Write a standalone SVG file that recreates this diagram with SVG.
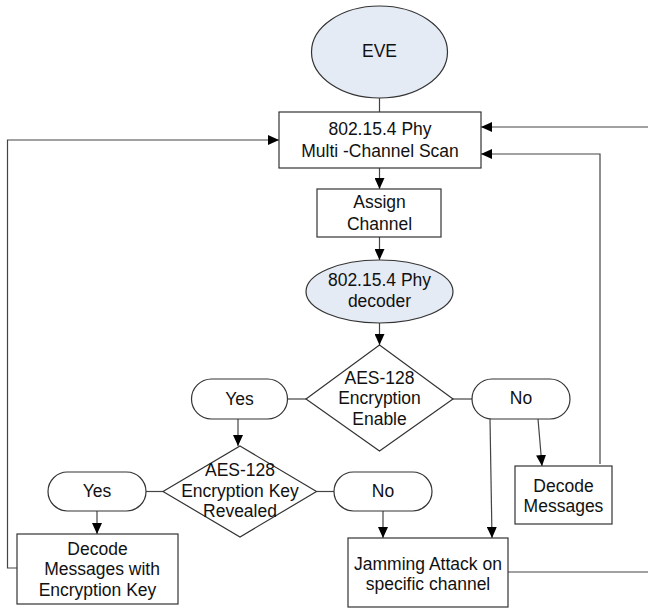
<svg xmlns="http://www.w3.org/2000/svg" width="648" height="610" viewBox="0 0 648 610">
<defs>
<style>
.n{fill:#fff;stroke:#333;stroke-width:1.2}
.e{fill:#e5ebf5;stroke:#333;stroke-width:1.2}
.t{font-family:"Liberation Sans",Arial,sans-serif;font-size:17.5px;text-anchor:middle;fill:#111}
.c{fill:none;stroke:#444;stroke-width:1.2}
.a{marker-end:url(#ah)}
</style>
<marker id="ah" markerWidth="11" markerHeight="10" refX="11" refY="5" orient="auto" markerUnits="userSpaceOnUse">
<path d="M0,0 L11,5 L0,10 z" fill="#000"/>
</marker>
</defs>
<rect width="648" height="610" fill="#fff"/>
<g id="connectors">
<path class="c" d="M379.5,98 V112"/>
<path class="c a" d="M379.5,168 V189"/>
<path class="c a" d="M379.5,237 V260"/>
<path class="c a" d="M379.5,323 V345"/>
<path class="c" d="M288,399 H306"/>
<path class="c" d="M453,399 H472"/>
<path class="c a" d="M238,419 V446"/>
<path class="c" d="M146,491.5 H163"/>
<path class="c" d="M316.5,491.5 H334"/>
<path class="c a" d="M97,511 V534"/>
<path class="c a" d="M383,511 V538"/>
<path class="c a" d="M490,419 L492,538"/>
<path class="c a" d="M538,419 L542,466"/>
<path class="c a" d="M600,464 V154 H481"/>
<path class="c" d="M508,572 H648"/>
<path class="c a" d="M648,127 H481"/>
<path class="c a" d="M17,568 H7.5 V140 H279"/>
</g>
<g id="eve">
<ellipse class="e" cx="379.5" cy="52" rx="68" ry="46"/>
<text class="t" x="379.5" y="57">EVE</text>
</g>
<g id="scan">
<rect class="n" x="279" y="112" width="202" height="56"/>
<text class="t" x="380" y="135">802.15.4 Phy</text>
<text class="t" x="380" y="157">Multi -Channel Scan</text>
</g>
<g id="assign">
<rect class="n" x="317" y="189" width="124" height="48"/>
<text class="t" x="379.5" y="207.5">Assign</text>
<text class="t" x="379.5" y="230">Channel</text>
</g>
<g id="decoder">
<ellipse class="e" cx="379.5" cy="291.5" rx="73.5" ry="31.5"/>
<text class="t" x="379.5" y="286">802.15.4 Phy</text>
<text class="t" x="379.5" y="307">decoder</text>
</g>
<g id="enc-enable">
<polygon class="n" points="379.5,345 453,399 379.5,451 306,399"/>
<text class="t" x="379.5" y="383.5">AES-128</text>
<text class="t" x="379.5" y="404">Encryption</text>
<text class="t" x="379.5" y="425">Enable</text>
</g>
<g id="yes1">
<rect class="n" x="191.5" y="379" width="96" height="40" rx="20" ry="20"/>
<text class="t" x="239.5" y="404.5">Yes</text>
</g>
<g id="no1">
<rect class="n" x="472" y="379" width="98" height="40" rx="20" ry="20"/>
<text class="t" x="521" y="404">No</text>
</g>
<g id="key-revealed">
<polygon class="n" points="240,446 316.5,491.5 240,537 163,491.5"/>
<text class="t" x="240" y="476">AES-128</text>
<text class="t" x="240" y="497">Encryption Key</text>
<text class="t" x="240" y="517">Revealed</text>
</g>
<g id="yes2">
<rect class="n" x="48" y="472" width="98" height="39" rx="19.5" ry="19.5"/>
<text class="t" x="97" y="497">Yes</text>
</g>
<g id="no2">
<rect class="n" x="334" y="472" width="98" height="39" rx="19.5" ry="19.5"/>
<text class="t" x="383" y="497">No</text>
</g>
<g id="decode-key">
<rect class="n" x="17" y="534" width="161" height="70"/>
<text class="t" x="97.5" y="555">Decode</text>
<text class="t" x="102" y="575">Messages with</text>
<text class="t" x="97.5" y="596">Encryption Key</text>
</g>
<g id="decode-msgs">
<rect class="n" x="515" y="466" width="97" height="58"/>
<text class="t" x="563.5" y="492">Decode</text>
<text class="t" x="563.5" y="512">Messages</text>
</g>
<g id="jamming">
<rect class="n" x="348" y="538" width="160" height="69"/>
<text class="t" x="428" y="570">Jamming Attack on</text>
<text class="t" x="428" y="590">specific channel</text>
</g>
</svg>
